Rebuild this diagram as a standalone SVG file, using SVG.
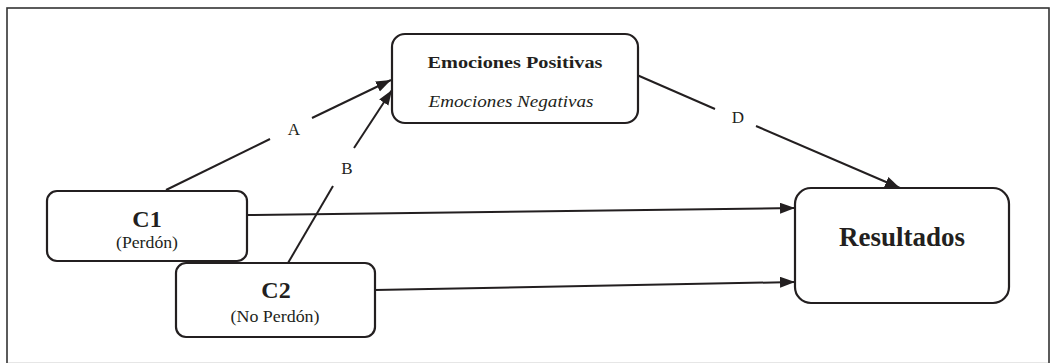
<svg xmlns="http://www.w3.org/2000/svg" width="1051" height="363" viewBox="0 0 1051 363">
<style>
.box{fill:#fff;stroke:#231f20;stroke-width:2.2}
.edge{stroke:#231f20;stroke-width:2;fill:none}
.t{font-family:"Liberation Serif","Times New Roman",serif;fill:#231f20;text-anchor:middle}
.b{font-weight:bold}
.i{font-style:italic}
</style>
<defs>
<marker id="arr" markerUnits="userSpaceOnUse" markerWidth="16" markerHeight="12" refX="15" refY="5.5" orient="auto">
<path d="M0,0 L15,5.5 L0,11 z" fill="#231f20"/>
</marker>
</defs>
<rect x="7" y="8" width="1042" height="370" fill="#fff" stroke="#333" stroke-width="1.6"/>
<line x1="8" y1="362.5" x2="1048" y2="362.5" stroke="#e6e6e6" stroke-width="1"/>
<g id="connectors">
<line class="edge" x1="166" y1="190" x2="270" y2="139"/>
<line class="edge" x1="312" y1="118" x2="391" y2="80" marker-end="url(#arr)"/>
<line class="edge" x1="288" y1="263" x2="333" y2="186"/>
<line class="edge" x1="354" y1="148" x2="392" y2="90" marker-end="url(#arr)"/>
<line class="edge" x1="637" y1="75" x2="715" y2="109"/>
<line class="edge" x1="756" y1="126" x2="900" y2="188" marker-end="url(#arr)"/>
<line class="edge" x1="247" y1="215" x2="795" y2="208" marker-end="url(#arr)"/>
<line class="edge" x1="375" y1="290" x2="795" y2="282" marker-end="url(#arr)"/>
<text class="t" x="294" y="135" font-size="17">A</text>
<text class="t" x="347" y="174" font-size="17">B</text>
<text class="t" x="738" y="123" font-size="17">D</text>
</g>
<g id="emociones">
<rect class="box" x="392" y="34" width="246" height="89" rx="13"/>
<text class="t b" x="515" y="68" font-size="17" textLength="175" lengthAdjust="spacingAndGlyphs">Emociones Positivas</text>
<text class="t i" x="511" y="107" font-size="17" textLength="165" lengthAdjust="spacingAndGlyphs">Emociones Negativas</text>
</g>
<g id="c1">
<rect class="box" x="47" y="191" width="200" height="70" rx="10"/>
<text class="t b" x="147" y="227" font-size="24">C1</text>
<text class="t" x="147" y="248" font-size="16" textLength="62" lengthAdjust="spacingAndGlyphs">(Perdón)</text>
</g>
<g id="c2">
<rect class="box" x="176" y="263" width="199" height="74" rx="10"/>
<text class="t b" x="276" y="298" font-size="24">C2</text>
<text class="t" x="275" y="322" font-size="16" textLength="89" lengthAdjust="spacingAndGlyphs">(No Perdón)</text>
</g>
<g id="resultados">
<rect class="box" x="795" y="188" width="214" height="115" rx="16"/>
<text class="t b" x="902" y="246" font-size="27">Resultados</text>
</g>
</svg>
